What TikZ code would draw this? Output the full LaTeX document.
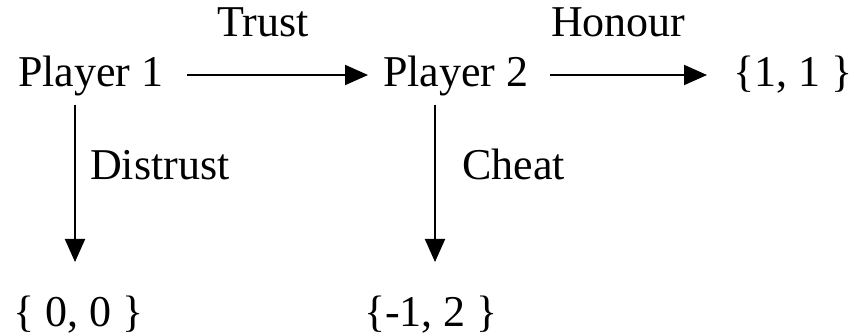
\documentclass[tikz,border=0pt]{standalone}
\usepackage{fontspec}
\setmainfont{Liberation Serif}
\usetikzlibrary{arrows.meta,calc}
\begin{document}
\begin{tikzpicture}[x=1pt,y=-1pt,
  lbl/.style={anchor=base west,inner sep=0pt,font=\fontsize{44}{50}\selectfont},
  arr/.style={line width=2pt,-{Triangle[length=23pt,width=20pt]}}]
\useasboundingbox (0,0) rectangle (854,336);
\node[lbl] (p1) at (18,87) {Player 1};
\node[lbl] (trust) at (217,37) {Trust};
\node[lbl] (p2) at (383,87) {Player 2};
\node[lbl] (hon) at (551,37) {Honour};
\node[lbl] (r11) at (733,87) {\{1, 1 \}};
\node[lbl] (dis) at (90,180) {Distrust};
\node[lbl] (cheat) at (462,180) {Cheat};
\node[lbl] (r00) at (13,327) {\{ 0, 0 \}};
\node[lbl] (r12) at (364,327) {\{-1, 2 \}};
\draw[arr] ($(p1.base west)+(169,-12)$) -- ($(p2.base west)+(-15,-12)$);
\draw[arr] ($(p2.base west)+(167,-12)$) -- ($(r11.base west)+(-26,-12)$);
\draw[arr] ($(p1.base west)+(57,18)$) -- ($(r00.base west)+(62,-65)$);
\draw[arr] ($(p2.base west)+(52,18)$) -- ($(r12.base west)+(71,-65)$);
\end{tikzpicture}
\end{document}
